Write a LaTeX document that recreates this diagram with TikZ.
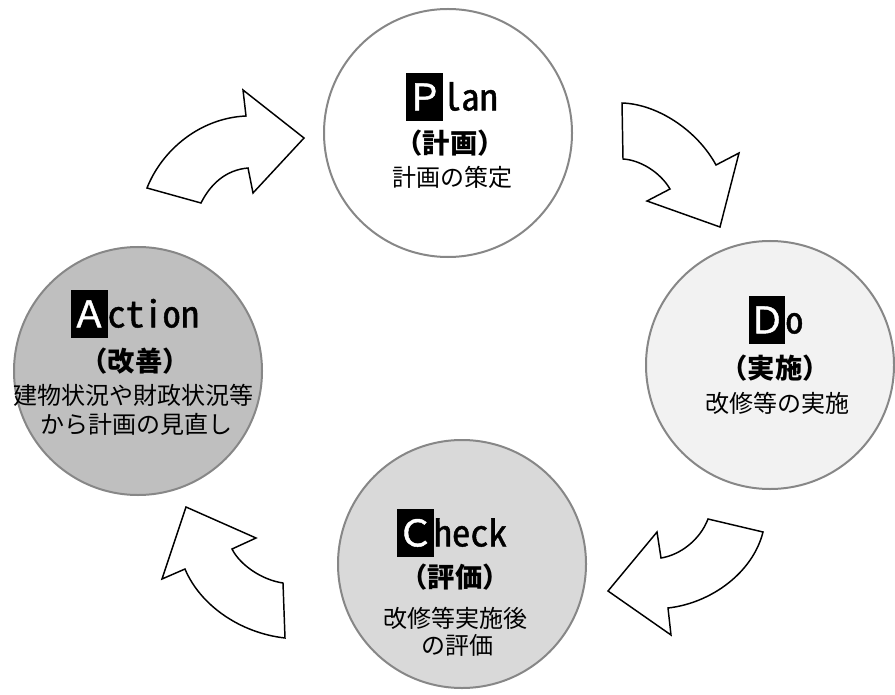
\documentclass[tikz,border=0pt]{standalone}
\usepackage{fontspec}
\setmainfont{Noto Sans CJK JP}
\newfontfamily\jpf{Noto Sans CJK JP}
\newfontfamily\hwf[RawFeature=+hwid, FakeBold=1.2]{Noto Sans CJK JP}
\newfontfamily\hlf[FakeBold=1.2]{Noto Sans CJK JP}
\definecolor{ringgray}{RGB}{135,135,135}
\definecolor{dofill}{RGB}{242,242,242}
\definecolor{checkfill}{RGB}{217,217,217}
\definecolor{actfill}{RGB}{191,191,191}
\newcommand{\hlbox}[1]{{\setlength{\fboxsep}{0pt}\colorbox{black}{\rule[-0.3em]{0pt}{1.33em}\textcolor{white}{\hlf #1}}}}
\tikzset{
  phase/.style={circle, draw=ringgray, line width=1.5pt, minimum size=186pt, inner sep=0pt},
  ttl/.style={font=\hwf\fontsize{27.5}{30}\selectfont, inner sep=0pt},
  sub/.style={font=\jpf\bfseries\fontsize{20.5}{22}\selectfont, inner sep=0pt},
  body/.style={font=\jpf\fontsize{18}{20}\selectfont, inner sep=0pt},
  blockarrow/.style={draw=black, fill=white, line width=1.1pt, line join=miter}
}
\begin{document}
\begin{tikzpicture}[x=0.75pt, y=-0.75pt]
\useasboundingbox (0,0) rectangle (895,695);
% circles
\node[phase, fill=white] (plan) at (448,133) {};
\node[phase, fill=dofill] (do) at (770,365) {};
\node[phase, fill=checkfill] (check) at (462,564) {};
\node[phase, fill=actfill] (act) at (138,371) {};
% Plan texts
\node[ttl] (plant) at (452,97) {\hlbox{Ｐ}lan};
\node[sub] (plans) at (450,143) {（計画）};
\node[body] (planb) at (452,177) {計画の策定};
% Do texts
\node[ttl] (dot) at (776,320) {\hlbox{Ｄ}o};
\node[sub] (dos) at (775,368) {（実施）};
\node[body] (dob) at (777,403) {改修等の実施};
% Check texts
\node[ttl] (checkt) at (452,533) {\hlbox{Ｃ}heck};
\node[sub] (checks) at (455,577) {（評価）};
\node[body] (checkb) at (455,618) {改修等実施後};
\node[body] (checkc) at (457,645) {の評価};
% Action texts
\node[ttl] (actt) at (135,314) {\hlbox{Ａ}ction};
\node[sub] (acts) at (135,361) {（改善）};
\node[body] (actb) at (133,395) {建物状況や財政状況等};
\node[body] (actc) at (136,424) {から計画の見直し};
% arrows
\draw[blockarrow] (147,188) -- (201,203) .. controls (210,185) and (225,170) .. (248,168) -- (253,193) -- (304,138) -- (243,90) -- (246,116) .. controls (200,118) and (162,150) .. (147,188) -- cycle;
\draw[blockarrow] (622,103) -- (623,159) .. controls (640,160) and (660,172) .. (670,189) -- (647,201) -- (720,227) -- (739,153) -- (716,165) .. controls (697,130) and (657,104) .. (622,103) -- cycle;
\draw[blockarrow] (708,519) -- (763,532) .. controls (753,572) and (712,603) .. (668,608) -- (671,635) -- (608,591) -- (657,532) -- (661,558) .. controls (680,555) and (700,540) .. (708,519) -- cycle;
\draw[blockarrow] (285,638) -- (283,583) .. controls (262,580) and (240,565) .. (232,549) -- (256,538) -- (186,507) -- (162,579) -- (185,569) .. controls (200,605) and (240,633) .. (285,638) -- cycle;
\end{tikzpicture}
\end{document}
